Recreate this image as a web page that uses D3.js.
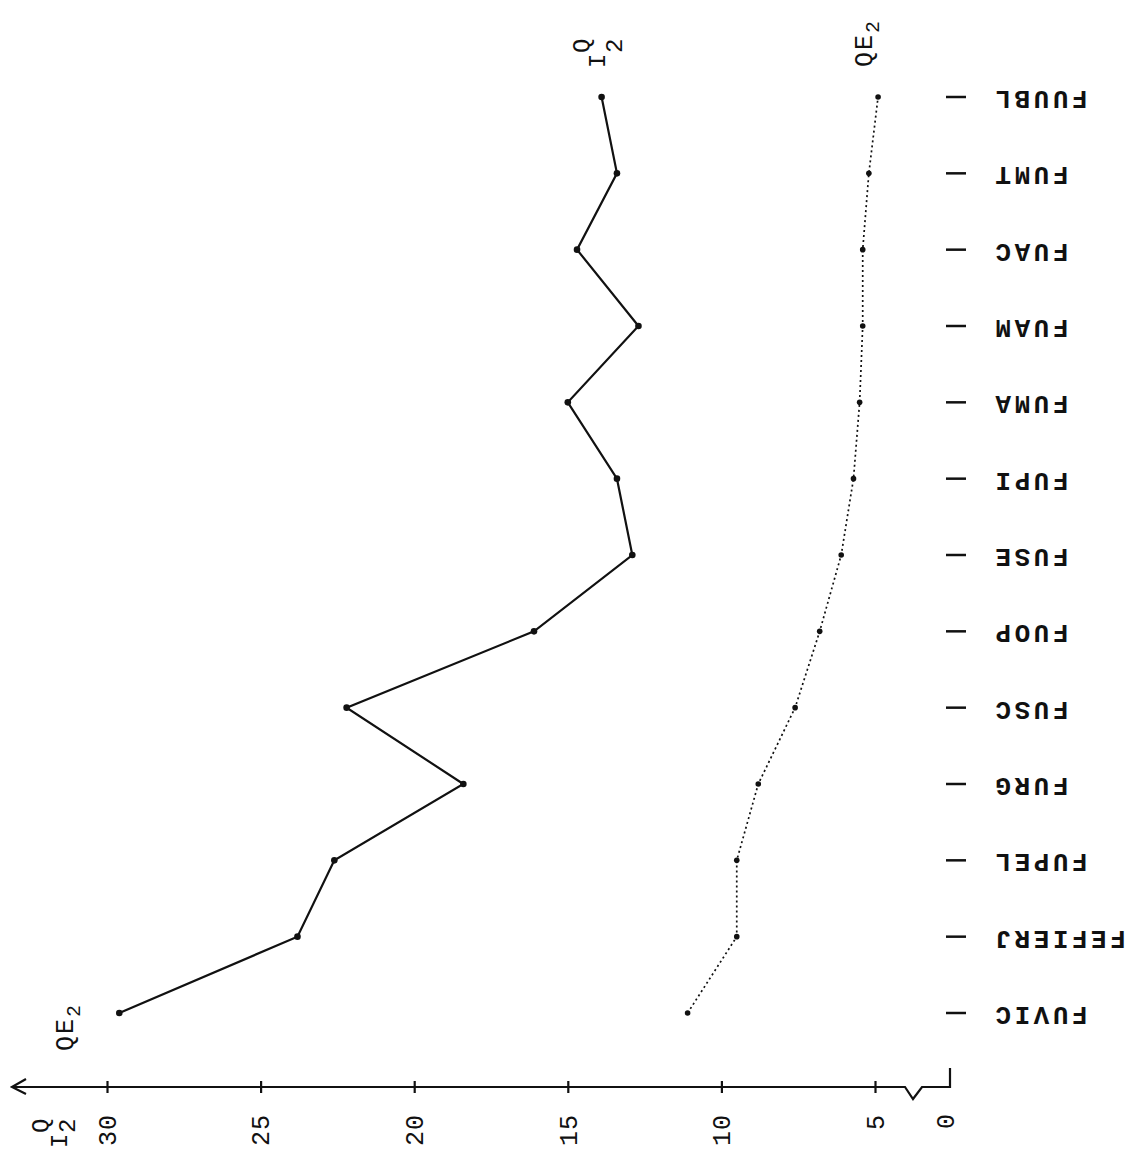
<!DOCTYPE html>
<html>
<head>
<meta charset="utf-8">
<script src="https://cdn.jsdelivr.net/npm/d3@7"></script>
<style>
  html, body { margin: 0; padding: 0; background: #fff; }
  svg { display: block; }
  text { font-family: "Liberation Mono", "DejaVu Sans Mono", monospace; fill: #111; }
</style>
</head>
<body>
<div id="chart"></div>
<script>
// categories, bottom (first) to top (last)
const categories = ['FUVIC', 'FEFIERJ', 'FUPEL', 'FURG', 'FUSC', 'FUOP', 'FUSE',
  'FUPI', 'FUMA', 'FUAM', 'FUAC', 'FUMT', 'FUUBL'];
// IQ2 series (solid line)
const iq2Values = [29.6, 23.8, 22.6, 18.4, 22.2, 16.1, 12.9, 13.4, 15.0, 12.7, 14.7, 13.4, 13.9];
// QE2 series (dotted line)
const qe2Values = [11.1, 9.5, 9.5, 8.8, 7.6, 6.8, 6.1, 5.7, 5.5, 5.4, 5.4, 5.2, 4.9];
const tickValues = [30, 25, 20, 15, 10, 5];
const tickLabels = ['30', '25', '20', '15', '10', '5'];
const originLabel = '0';

const width = 1129, height = 1151;
const axisY = 1087;

const svg = d3.select('#chart').append('svg')
  .attr('width', width)
  .attr('height', height);

svg.append('rect').attr('width', width).attr('height', height).attr('fill', '#fff');

// value scale runs right-to-left, categories bottom-to-top
const x = d3.scaleLinear().domain([5, 30]).range([875, 107]);
const y = d3.scalePoint().domain(categories).range([1013, 97]);

// value axis: ticks through the library, the line with arrow and break by hand
const axis = d3.axisBottom(x).tickValues(tickValues).tickSize(12).tickFormat('');
const gAxis = svg.append('g')
  .attr('transform', `translate(0,${axisY - 6})`)
  .call(axis);
gAxis.select('.domain').remove();
gAxis.selectAll('.tick line').attr('stroke', '#111').attr('stroke-width', 2.2);

const axisPath = d3.path();
axisPath.moveTo(12, axisY);
axisPath.lineTo(x(5) + 30, axisY);
axisPath.lineTo(x(5) + 38, axisY + 12);
axisPath.lineTo(x(5) + 47, axisY);
axisPath.lineTo(950, axisY);
axisPath.lineTo(950, axisY - 19);
axisPath.moveTo(26, axisY - 8);
axisPath.lineTo(12, axisY);
axisPath.lineTo(26, axisY + 7);
svg.append('path')
  .attr('d', axisPath.toString())
  .attr('fill', 'none')
  .attr('stroke', '#111')
  .attr('stroke-width', 2.2);

// tick labels, written sideways
svg.selectAll('.tlabel')
  .data(tickValues)
  .enter()
  .append('text')
  .attr('class', 'tlabel')
  .attr('transform', d => `translate(${x(d)},1114) rotate(-90)`)
  .attr('text-anchor', 'end')
  .attr('dy', '0.35em')
  .style('font-size', '25px')
  .style('letter-spacing', '1px')
  .text((d, i) => tickLabels[i]);

svg.append('text')
  .attr('transform', 'translate(945,1114) rotate(-90)')
  .attr('text-anchor', 'end')
  .attr('dy', '0.35em')
  .style('font-size', '25px')
  .text(originLabel);

// category ticks and labels (upside down)
svg.selectAll('.ctick')
  .data(categories)
  .enter()
  .append('line')
  .attr('class', 'ctick')
  .attr('x1', 946).attr('x2', 966)
  .attr('y1', d => y(d)).attr('y2', d => y(d))
  .attr('stroke', '#111')
  .attr('stroke-width', 2.5);

svg.selectAll('.clabel')
  .data(categories)
  .enter()
  .append('text')
  .attr('class', 'clabel')
  .attr('transform', d => `translate(992,${y(d) + 3}) rotate(180)`)
  .attr('text-anchor', 'end')
  .attr('dy', '0.35em')
  .style('font-size', '26px')
  .style('font-weight', 'bold')
  .style('letter-spacing', '3.5px')
  .text(d => d);

// series
const iqData = categories.map((c, i) => ({ c, v: iq2Values[i] }));
const qeData = categories.map((c, i) => ({ c, v: qe2Values[i] }));
const line = d3.line().x(d => x(d.v)).y(d => y(d.c));

svg.append('path')
  .datum(iqData)
  .attr('d', line)
  .attr('fill', 'none')
  .attr('stroke', '#111')
  .attr('stroke-width', 2.2);

svg.selectAll('.iqdot')
  .data(iqData)
  .enter()
  .append('circle')
  .attr('class', 'iqdot')
  .attr('cx', d => x(d.v))
  .attr('cy', d => y(d.c))
  .attr('r', 3.3)
  .attr('fill', '#111');

svg.append('path')
  .datum(qeData)
  .attr('d', line)
  .attr('fill', 'none')
  .attr('stroke', '#111')
  .attr('stroke-width', 1.7)
  .attr('stroke-dasharray', '2,3');

svg.selectAll('.qedot')
  .data(qeData)
  .enter()
  .append('circle')
  .attr('class', 'qedot')
  .attr('cx', d => x(d.v))
  .attr('cy', d => y(d.c))
  .attr('r', 2.8)
  .attr('fill', '#111');

// series and axis names
function qeLabel(px, py) {
  const t = svg.append('text')
    .attr('transform', `translate(${px},${py}) rotate(-90)`)
    .style('font-size', '25px')
    .style('letter-spacing', '2px');
  t.append('tspan').text('QE');
  t.append('tspan').attr('dy', 7).style('font-size', '20px').text('2');
}
function iqLabel(px, py, up, down) {
  const t = svg.append('text')
    .attr('transform', `translate(${px},${py}) rotate(-90)`)
    .style('font-size', '24px');
  t.append('tspan').attr('x', 0).attr('y', 0).text('I');
  t.append('tspan').attr('x', 15).attr('y', -up).text('Q');
  t.append('tspan').attr('x', 15).attr('y', down).text('2');
}

qeLabel(872, 67);
qeLabel(73, 1051);
iqLabel(605, 68, 16, 17);
iqLabel(67, 1148, 19, 8);
</script>
</body>
</html>
